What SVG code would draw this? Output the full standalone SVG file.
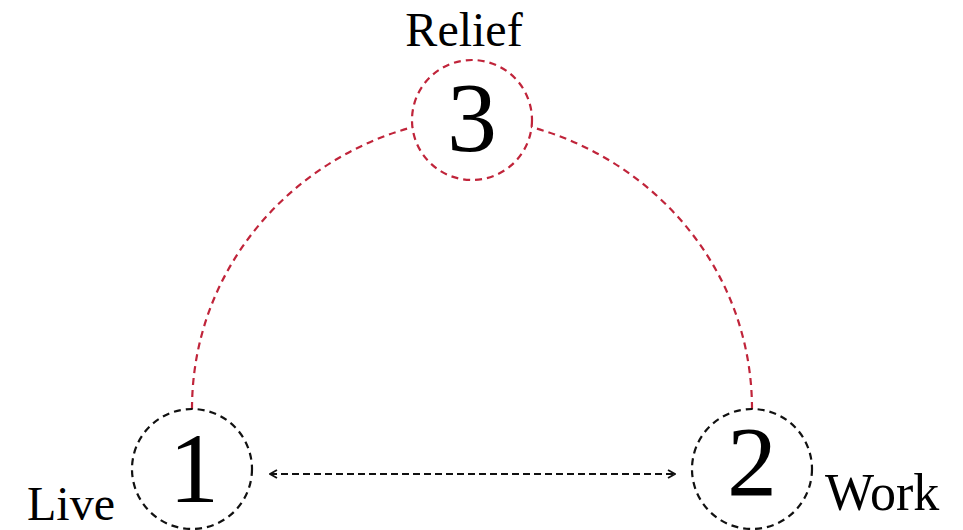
<svg xmlns="http://www.w3.org/2000/svg" width="963" height="530" viewBox="0 0 963 530">
<style>
.node{fill:none;stroke-width:2.2;stroke-dasharray:7 5}
.blk{stroke:#111}
.red{stroke:#c0243a}
.num{font-family:"Liberation Serif",serif;font-size:100px;fill:#000;text-anchor:middle}
.lbl{font-family:"Liberation Serif",serif;font-size:48px;fill:#000}
.arc{fill:none;stroke:#c0243a;stroke-width:2.2;stroke-dasharray:7 5}
.arr{fill:none;stroke:#111;stroke-width:2.2;stroke-dasharray:7 4}
</style>
<defs>
<marker id="ah" viewBox="0 0 10 10" refX="9" refY="5" markerWidth="10" markerHeight="10" markerUnits="userSpaceOnUse" orient="auto-start-reverse">
<path d="M2,1 L9,5 L2,9" fill="none" stroke="#111" stroke-width="1.8"/>
</marker>
</defs>
<rect width="963" height="530" fill="#fff"/>
<g id="connectors">
<path class="arc" d="M192,409 C192,270 290,160 413,127"/>
<path class="arc" d="M752,409 C752,270 654,160 531,127"/>
<path class="arr" d="M270,474 L675,474" marker-start="url(#ah)" marker-end="url(#ah)"/>
</g>
<g id="node3">
<circle class="node red" cx="472" cy="120" r="60"/>
<text class="num" x="472" y="151">3</text>
<text class="lbl" x="464" y="46" text-anchor="middle">Relief</text>
</g>
<g id="node1">
<circle class="node blk" cx="192" cy="469" r="60"/>
<text class="num" x="194" y="502">1</text>
<text class="lbl" x="27" y="520">Live</text>
</g>
<g id="node2">
<circle class="node blk" cx="752" cy="469" r="60"/>
<text class="num" x="752" y="495">2</text>
<text class="lbl" x="825" y="510" style="font-size:52px">Work</text>
</g>
</svg>
